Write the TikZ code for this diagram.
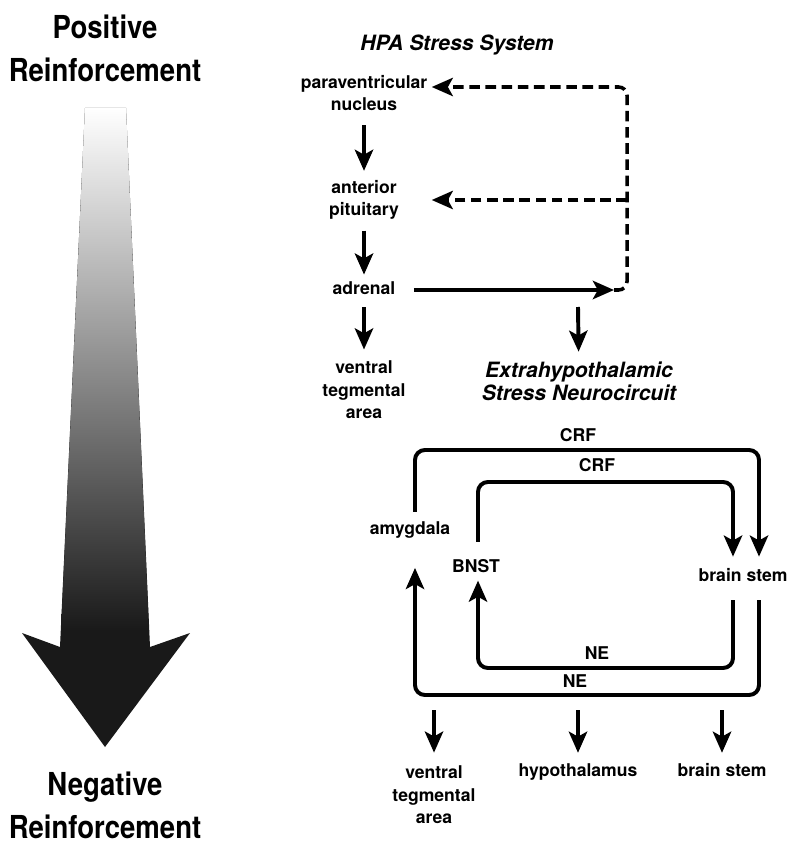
\documentclass[tikz,border=0pt]{standalone}
\usepackage{fontspec}
\setmainfont{TeX Gyre Heros}
\newfontfamily\bigfont{TeX Gyre Heros}[FakeStretch=0.87]
\usetikzlibrary{calc}
\usetikzlibrary{arrows.meta}
\tikzset{
	lbl/.style={font=\bfseries\fontsize{12.5}{16}\selectfont,align=center,inner sep=3pt},
	one/.style={lbl,text height=9pt,text depth=2.5pt},
	ttl/.style={font=\bfseries\itshape\fontsize{15}{16.5}\selectfont,align=center},
	big/.style={font=\bigfont\bfseries\fontsize{22.5}{30.5}\selectfont,align=center},
	tip/.style={-{Stealth[length=15pt,width=13pt,inset=3.5pt]}},
	arr/.style={tip,line width=2.8pt},
	dsh/.style={tip,line width=2.5pt,dash pattern=on 7.5pt off 4pt,rounded corners=6pt},
	loopa/.style={tip,line width=2.8pt,rounded corners=7pt}
}
\begin{document}
\begin{tikzpicture}[x=0.025cm,y=-0.025cm]
	\useasboundingbox (0,0) rectangle (800,853);
	\fill[black!90] (85,108) -- (60,647) -- (22,633) -- (105,747) -- (190,633) -- (150,647) -- (126,108) -- cycle;
	\shade[top color=white,bottom color=black!90] (85,108) -- (126,108) -- (149,630) -- (61,630) -- cycle;
	\node[big] (pos) at (105,48) {Positive\\Reinforcement};
	\node[big] (neg) at (105,805) {Negative\\Reinforcement};

	\node[ttl] (hpa) at (457,45) {HPA Stress System};
	\node[lbl] (pvn) at (364,93) {paraventricular\\nucleus};
	\node[lbl] (ant) at (364,200) {anterior\\pituitary};
	\node[one] (adr) at (364,290) {adrenal};
	\node[lbl] (vta1) at (364,390) {ventral\\tegmental\\area};
	\draw[arr,shorten <=7pt,shorten >=3.5pt] (pvn) -- (ant);
	\draw[arr,shorten <=4.5pt,shorten >=2pt] (ant) -- (adr);
	\draw[arr,shorten <=3.3pt,shorten >=5pt] (adr) -- (vta1);
	\coordinate (jn) at (614,290);
	\coordinate (fb) at (627,87);
	\draw[arr,shorten <=10pt] (adr.east) -- (jn);
	\draw[dsh] (jn) -| (fb) -- (pvn.east |- fb);
	\draw[dsh] (fb |- ant) -- (ant.east -| pvn.east);

	\coordinate (hpaout) at (578,307);
	\node[ttl] (ext) at (579,381) {Extrahypothalamic\\Stress Neurocircuit};
	\draw[arr,shorten >=3.4pt] (hpaout) -- (ext);

	\node[one] (amy) at (410,530) {amygdala};
	\node[one] (bnst) at (476,568) {BNST};
	\node[one] (bs) at (743,577) {brain stem};
	\coordinate (onw) at (415,450);
	\coordinate (ose) at (759,695);
	\coordinate (inw) at (478,482);
	\coordinate (ise) at (733,668);
	\draw[loopa,shorten <=4pt,shorten >=5.5pt] (amy.north -| onw) -- (onw) -| (ose |- bs.north);
	\draw[loopa,shorten <=7.5pt,shorten >=18pt] (ose |- bs.south) -- (ose) -| (onw |- amy.south);
	\draw[loopa,shorten <=9.7pt,shorten >=5.5pt] (bnst.north -| inw) -- (inw) -| (ise |- bs.north);
	\draw[loopa,shorten <=7.5pt] (ise |- bs.south) -- (ise) -| (inw |- bnst.south);
	\node[one] (crf1) at (578,437) {CRF};
	\node[one] (crf2) at (597,467) {CRF};
	\node[one] (ne2) at (597,655) {NE};
	\node[one] (ne1) at (575,683) {NE};

	\coordinate (out1) at (434,710);
	\coordinate (out2) at (578,710);
	\coordinate (out3) at (722,710);
	\node[lbl] (vta2) at (434,795) {ventral\\tegmental\\area};
	\node[one] (hyp) at (578,772) {hypothalamus};
	\node[one] (bs2) at (722,772) {brain stem};
	\draw[arr,shorten >=6.3pt] (out1) -- (vta2);
	\draw[arr,shorten >=4.7pt] (out2) -- (hyp);
	\draw[arr,shorten >=4.7pt] (out3) -- (bs2);
\end{tikzpicture}
\end{document}
